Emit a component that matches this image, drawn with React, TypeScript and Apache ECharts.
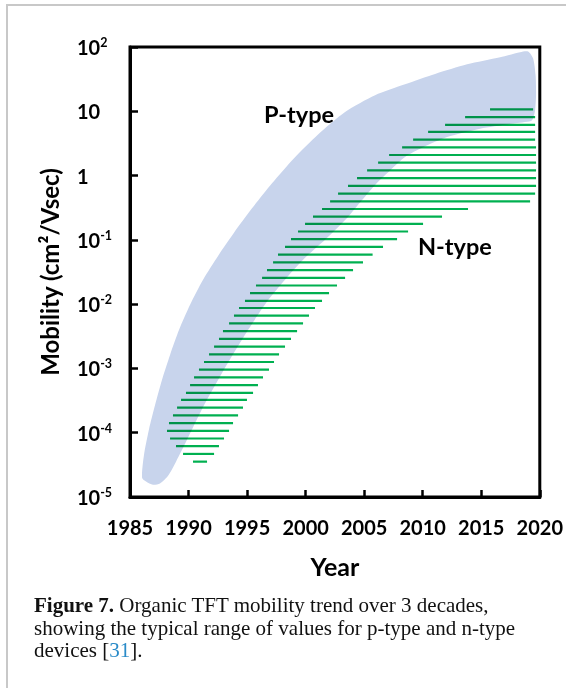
import React, { useEffect, useRef } from "react";
import * as echarts from "echarts";

// ---- P-type band (shaded region): upper/left edge, left to right, then right tip ----
const pUpperYear = [
  1986.03, 1986.2, 1986.62, 1987.14, 1987.73, 1988.42, 1989.19, 1990.13, 1991.24, 1992.52,
  1993.88, 1995.42, 1997.13, 1999.01, 2001.06, 2003.37, 2005.93, 2008.49, 2011.06, 2013.79,
  2016.61, 2018.32, 2019.0, 2019.43, 2019.64, 2019.68, 2019.6, 2019.43,
];
const pUpperLogMobility = [
  -4.7, -4.34, -3.95, -3.57, -3.18, -2.79, -2.4, -2.01, -1.62, -1.25,
  -0.89, -0.51, -0.12, 0.27, 0.64, 0.99, 1.25, 1.42, 1.58, 1.73,
  1.84, 1.92, 1.93, 1.82, 1.56, 1.25, 1.02, 0.89,
];
// lower/right edge, right to left
const pLowerYear = [
  2019.26, 2017.72, 2014.9, 2012.08, 2010.03, 2008.49, 2007.21, 2006.01, 2004.82, 2003.54,
  2001.66, 1999.95, 1998.24, 1996.79, 1995.51, 1994.4, 1992.86, 1991.24, 1989.87, 1988.93,
  1988.25, 1987.56, 1986.96, 1986.37,
];
const pLowerLogMobility = [
  0.85, 0.81, 0.73, 0.6, 0.44, 0.29, 0.08, -0.13, -0.38, -0.66,
  -1.0, -1.28, -1.62, -1.94, -2.28, -2.6, -3.07, -3.6, -4.11, -4.45,
  -4.67, -4.79, -4.81, -4.76,
];

// ---- N-type hatch lines: level (log10 mobility), start year, end year ----
const nLineLogMobility = [
  1.03, 0.91, 0.79, 0.68, 0.56, 0.44, 0.32, 0.2, 0.08, -0.04,
  -0.16, -0.28, -0.4, -0.52, -0.64, -0.75, -0.87, -0.99, -1.11, -1.23,
  -1.35, -1.47, -1.59, -1.71, -1.83, -1.95, -2.06, -2.18, -2.3, -2.42,
  -2.54, -2.66, -2.78, -2.9, -3.02, -3.14, -3.26, -3.38, -3.49, -3.61,
  -3.73, -3.85, -3.97, -4.09, -4.21, -4.33, -4.45,
];
const nLineStartYear = [
  2015.75, 2013.62, 2011.91, 2010.46, 2009.18, 2008.24, 2007.13, 2006.19, 2005.25, 2004.39,
  2003.62, 2002.77, 2002.09, 2001.4, 2000.63, 1999.95, 1999.35, 1998.75, 1998.24, 1997.64,
  1997.22, 1996.7, 1996.28, 1995.76, 1995.25, 1994.82, 1994.31, 1993.88, 1993.46, 1992.94,
  1992.6, 1992.18, 1991.75, 1991.32, 1990.89, 1990.47, 1990.13, 1989.78, 1989.36, 1989.02,
  1988.67, 1988.33, 1988.16, 1988.42, 1988.93, 1989.53, 1990.38,
];
const nLineEndYear = [
  2019.43, 2019.6, 2019.6, 2019.6, 2019.6, 2019.68, 2019.68, 2019.68, 2019.68, 2019.68,
  2019.68, 2019.6, 2019.17, 2013.87, 2011.65, 2010.03, 2008.75, 2007.81, 2006.61, 2005.72,
  2004.9, 2004.05, 2003.37, 2002.68, 2002.0, 2001.4, 2000.8, 2000.29, 1999.78, 1999.27,
  1998.75, 1998.24, 1997.73, 1997.3, 1996.87, 1996.36, 1995.93, 1995.51, 1994.99, 1994.65,
  1994.23, 1993.8, 1993.46, 1993.03, 1992.6, 1992.18, 1991.58,
];

// ---- axes ----
const yearMin = 1985;
const yearMax = 2020;
const yearStep = 5;
const mobilityMin = 1e-5;
const mobilityMax = 100;

const regionLabels = ["P-type", "N-type"];
const captionLines = [
  "Organic TFT mobility trend over 3 decades,",
  "showing the typical range of values for p-type and n-type",
  "devices [",
];

const SANS = "Lato, 'Open Sans', sans-serif";
const SERIF = "'Liberation Serif', 'Times New Roman', serif";
const HATCH = "#00b050";

export default function App() {
  const ref = useRef<HTMLDivElement>(null);

  useEffect(() => {
    if (!ref.current) return;
    const chart = echarts.init(ref.current, null, { renderer: "svg" });

    const bandData: number[][] = [
      ...pUpperYear.map((y, i) => [y, Math.pow(10, pUpperLogMobility[i])]),
      ...pLowerYear.map((y, i) => [y, Math.pow(10, pLowerLogMobility[i])]),
    ];
    const hatchData: number[][] = nLineLogMobility.map((e, i) => [
      nLineStartYear[i],
      nLineEndYear[i],
      Math.pow(10, e),
    ]);

    const labelRich = {
      b: { fontFamily: SANS, fontWeight: "bold", fontSize: 20, color: "#000", lineHeight: 22 },
      s: { fontFamily: SANS, fontWeight: "bold", fontSize: 12.5, color: "#000", lineHeight: 13, verticalAlign: "top" },
    };

    chart.setOption({
      animation: false,
      backgroundColor: "#fff",
      grid: {
        left: 130,
        right: 26,
        top: 47,
        bottom: 191,
        show: true,
        borderColor: "#000",
        borderWidth: 3,
        backgroundColor: "transparent",
      },
      xAxis: {
        type: "value",
        min: yearMin,
        max: yearMax,
        interval: yearStep,
        axisLine: { show: true, onZero: false, lineStyle: { color: "#000", width: 3 } },
        axisTick: { show: true, inside: true, length: 7, lineStyle: { color: "#000", width: 2.5 } },
        splitLine: { show: false },
        axisLabel: {
          color: "#000",
          fontFamily: SANS,
          fontWeight: "bold",
          fontSize: 20,
          margin: 20,
          formatter: (v: number) => String(v),
        },
        name: "Year",
        nameLocation: "middle",
        nameGap: 56,
        nameTextStyle: { color: "#000", fontFamily: SANS, fontWeight: "bold", fontSize: 25 },
      },
      yAxis: {
        type: "log",
        logBase: 10,
        min: mobilityMin,
        max: mobilityMax,
        splitNumber: 7,
        axisLine: { show: true, onZero: false, lineStyle: { color: "#000", width: 3 } },
        axisTick: { show: true, inside: true, length: 8, lineStyle: { color: "#000", width: 2.5 } },
        minorTick: { show: false },
        splitLine: { show: false },
        axisLabel: {
          align: "left",
          margin: 53,
          formatter: (v: number) => {
            const e = Math.round(Math.log10(v));
            if (e === 0) return "{b|1}";
            if (e === 1) return "{b|10}";
            return `{b|10}{s|${e}}`;
          },
          rich: labelRich,
        },
        name: "Mobility (cm²/Vsec)",
        nameLocation: "middle",
        nameGap: 69,
        nameRotate: 90,
        nameTextStyle: { color: "#000", fontFamily: SANS, fontWeight: "bold", fontSize: 24 },
      },
      series: [
        {
          type: "custom",
          name: "P-type",
          data: bandData,
          encode: { x: 0, y: 1 },
          silent: true,
          renderItem: (params: any, api: any) => {
            if (params.dataIndex !== 0) return null;
            const pts = bandData.map((d) => api.coord(d));
            return {
              type: "polygon",
              shape: { points: pts, smooth: 0.25 },
              style: { fill: "#c8d4ec", stroke: "none" },
            };
          },
        },
        {
          type: "custom",
          name: "N-type",
          data: hatchData,
          encode: { x: [0, 1], y: 2 },
          silent: true,
          renderItem: (params: any, api: any) => {
            const p1 = api.coord([api.value(0), api.value(2)]);
            const p2 = api.coord([api.value(1), api.value(2)]);
            return {
              type: "line",
              shape: { x1: p1[0], y1: p1[1], x2: p2[0], y2: p2[1] },
              style: { stroke: HATCH, lineWidth: 2.2, lineCap: "butt" },
            };
          },
        },
      ],
      graphic: [
        {
          type: "rect",
          shape: { x: 7, y: 5, width: 640, height: 760 },
          style: { fill: "none", stroke: "#c8c8c8", lineWidth: 2 },
          silent: true,
        },
        {
          type: "text",
          x: 264,
          y: 114,
          style: {
            text: regionLabels[0],
            fontFamily: SANS,
            fontWeight: "bold",
            fontSize: 23.5,
            fill: "#000",
            align: "left",
            verticalAlign: "middle",
          },
        },
        {
          type: "text",
          x: 418,
          y: 246,
          style: {
            text: regionLabels[1],
            fontFamily: SANS,
            fontWeight: "bold",
            fontSize: 23.5,
            fill: "#000",
            align: "left",
            verticalAlign: "middle",
          },
        },
        {
          type: "text",
          x: 34,
          y: 594,
          style: {
            text:
              "{b|Figure 7.}{n| " + captionLines[0] + "}\n{n|" + captionLines[1] + "}\n{n|" + captionLines[2] + "}{c|31}{n|].}",
            fontFamily: SERIF,
            fontSize: 21,
            lineHeight: 22.5,
            fill: "#111",
            align: "left",
            verticalAlign: "top",
            rich: {
              b: { fontFamily: SERIF, fontSize: 21, fontWeight: "bold", fill: "#111", lineHeight: 22.5 },
              n: { fontFamily: SERIF, fontSize: 21, fill: "#111", lineHeight: 22.5 },
              c: { fontFamily: SERIF, fontSize: 21, fill: "#2a8bc8", lineHeight: 22.5 },
            },
          },
        },
      ],
    });

    return () => chart.dispose();
  }, []);

  return (
    <>
      <style>{`
        .tft-chart svg path[stroke="${HATCH}"], .tft-chart svg path[stroke="rgb(0,176,80)"] { mix-blend-mode: multiply; }
      `}</style>
      <div
        ref={ref}
        className="tft-chart"
        style={{ position: "fixed", left: 0, top: 0, width: 566, height: 688, background: "#fff" }}
      />
    </>
  );
}
